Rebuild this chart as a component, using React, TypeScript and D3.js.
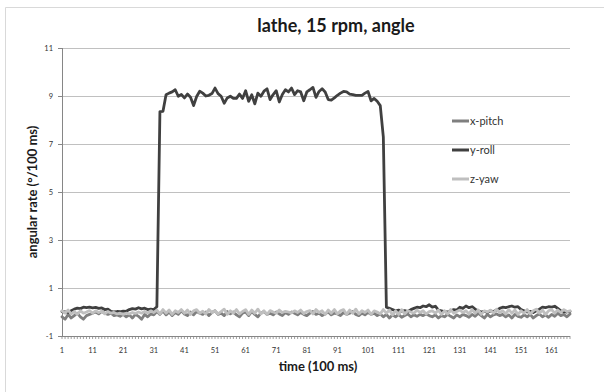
import React from "react";
import * as d3 from "d3";

const title = "lathe, 15 rpm, angle";
const yTitle = "angular rate (°/100 ms)";
const xTitle = "time (100 ms)";
const seriesNames = ["x-pitch", "y-roll", "z-yaw"];
const seriesColors = ["#7f7f7f", "#404040", "#bfbfbf"];
const yTicks = [-1, 1, 3, 5, 7, 9, 11];

const xPitch = [
  -0.2, -0.3, -0.1, -0.25, -0.15, -0.05, -0.2, -0.3, -0.15, -0.1,
  -0.05, 0.0, -0.08, 0.02, -0.05, -0.1, -0.05, -0.15, -0.12, -0.18,
  -0.1, -0.2, -0.12, -0.25, -0.1, -0.18, -0.3, -0.1, -0.2, -0.08,
  -0.12, 0.02, -0.1, 0.05, -0.12, 0.0, -0.15, -0.02, -0.1, 0.05,
  -0.08, -0.15, 0.0, -0.12, 0.02, -0.05, -0.1, 0.0, -0.15, -0.02,
  0.05, -0.1, -0.05, -0.15, 0.02, -0.08, 0.0, -0.12, -0.2, -0.05,
  0.0, -0.15, 0.02, -0.1, -0.2, -0.05, 0.02, -0.1, -0.05, -0.12,
  0.0, -0.08, -0.15, -0.02, -0.1, 0.0, -0.05, -0.12, -0.02, -0.1,
  -0.15, -0.05, 0.02, -0.1, -0.05, -0.15, -0.08, 0.0, -0.12, -0.05,
  -0.08, -0.15, -0.02, -0.1, -0.05, 0.02, -0.1, -0.15, -0.05, -0.12,
  -0.02, -0.1, -0.05, -0.15, -0.08, -0.2, -0.1, -0.25, -0.12, -0.2,
  -0.1, -0.22, -0.15, -0.08, -0.2, -0.12, -0.18, -0.1, -0.15, -0.08,
  -0.15, -0.2, -0.12, -0.25, -0.15, -0.2, -0.1, -0.18, -0.25, -0.12,
  -0.2, -0.1, -0.15, -0.22, -0.1, -0.18, -0.05, -0.15, -0.25, -0.1,
  -0.2, -0.12, -0.08, -0.15, -0.1, -0.2, -0.12, -0.25, -0.1, -0.18,
  -0.22, -0.12, -0.2, -0.1, -0.25, -0.15, -0.08, -0.2, -0.12, -0.22,
  -0.1, -0.18, -0.05, -0.15, -0.1, -0.2, -0.08,
];

const yRoll = [
  0.02, 0.0, -0.02, 0.05, 0.12, 0.16, 0.14, 0.2, 0.18, 0.2,
  0.17, 0.19, 0.15, 0.17, 0.1, 0.12, 0.03, 0.0, 0.02, 0.01,
  0.04, 0.03, 0.1, 0.14, 0.12, 0.18, 0.13, 0.16, 0.1, 0.12,
  0.1, 0.22, 8.35, 8.36, 9.05, 9.12, 9.17, 9.26, 8.99, 9.06,
  8.92, 9.08, 8.95, 8.6, 8.98, 9.2, 9.12, 9.0, 9.03, 9.1,
  9.33, 9.1, 8.99, 8.7, 8.92, 8.99, 8.9, 8.9, 9.08, 8.9,
  9.22, 8.78, 9.05, 8.67, 9.12, 8.99, 9.2, 9.3, 8.85, 9.06,
  9.22, 8.75, 9.06, 9.26, 9.17, 9.33, 9.06, 9.22, 9.17, 8.8,
  9.17, 9.26, 9.36, 8.94, 9.19, 9.3, 9.17, 8.85, 8.83, 8.92,
  9.03, 9.12, 9.19, 9.17, 9.08, 9.06, 9.03, 9.03, 9.03, 9.12,
  9.19, 8.8, 8.9, 8.78, 8.6, 7.3, 0.2, 0.15, 0.1, 0.05,
  0.08, 0.03, 0.06, 0.02, 0.1, 0.15, 0.2, 0.18, 0.25, 0.22,
  0.3, 0.2, 0.24, 0.08, 0.05, 0.02, 0.0, 0.05, 0.1, 0.08,
  0.2, 0.15, 0.25, 0.18, 0.22, 0.12, 0.05, 0.0, 0.03, -0.02,
  0.05, 0.02, 0.08, 0.15, 0.2, 0.18, 0.22, 0.25, 0.2, 0.22,
  0.1, 0.05, 0.0, 0.03, -0.02, 0.05, 0.12, 0.2, 0.18, 0.22,
  0.2, 0.24, 0.15, 0.05, 0.02, 0.0, 0.03,
];

const zYaw = [
  0.05, -0.05, 0.08, -0.08, 0.02, -0.1, 0.05, -0.05, 0.0, 0.06,
  -0.05, 0.05, -0.02, 0.03, -0.08, 0.02, -0.05, -0.02, -0.08, -0.05,
  -0.1, -0.05, -0.08, -0.02, -0.06, 0.0, -0.05, 0.02, -0.04, 0.05,
  -0.02, 0.08, -0.08, 0.1, -0.05, 0.08, -0.1, 0.05, -0.02, 0.1,
  -0.05, 0.08, -0.1, 0.05, 0.1, -0.05, 0.03, -0.08, 0.1, -0.02,
  0.05, -0.08, 0.02, 0.12, -0.1, 0.05, -0.05, 0.1, -0.08, 0.02,
  0.1, -0.1, 0.08, -0.05, 0.12, -0.08, 0.05, -0.1, 0.06, 0.0,
  -0.05, 0.08, -0.02, 0.03, 0.0, -0.04, 0.05, -0.02, 0.08, -0.06,
  0.02, 0.06, -0.08, 0.1, -0.02, 0.05, -0.1, 0.08, -0.05, 0.1,
  -0.08, 0.05, 0.1, -0.1, 0.08, -0.05, 0.12, -0.08, 0.05, -0.02,
  0.08, -0.1, 0.05, 0.0, -0.08, 0.1, -0.05, 0.08, -0.12, 0.05,
  -0.1, 0.1, -0.08, 0.05, 0.0, -0.05, 0.08, -0.02, 0.05, -0.08,
  0.02, 0.05, -0.05, 0.08, -0.1, 0.05, -0.08, 0.1, -0.05, 0.02,
  0.08, -0.02, 0.05, -0.08, 0.1, -0.05, 0.08, -0.1, 0.05, 0.0,
  0.08, -0.05, 0.12, -0.02, 0.05, -0.08, 0.1, -0.05, 0.08, -0.1,
  0.05, -0.05, 0.1, -0.08, 0.05, 0.12, -0.05, 0.08, -0.1, 0.05,
  0.1, -0.05, 0.08, -0.02, 0.1, 0.02, 0.05,
];

const categories = xPitch.map((_, i) => i + 1);
const xTickLabels = categories.filter((c) => (c - 1) % 10 === 0);

export default function App() {
  const W = 604, H = 392;
  const left = 62, right = 570, top = 48, bottom = 336;
  const x = d3.scalePoint<number>().domain(categories).range([left, right]);
  const y = d3.scaleLinear().domain([-1, 11]).range([bottom, top]);
  const line = d3
    .line<number>()
    .x((_, i) => x(categories[i]) as number)
    .y((d) => y(d));
  const data = [xPitch, yRoll, zYaw];
  const font = "Lato, 'Open Sans', sans-serif";
  const legendY = [121, 150, 179];

  return (
    <svg
      width={W}
      height={H}
      style={{ position: "absolute", left: 0, top: 0, background: "#fff" }}
      fontFamily={font}
    >
      <rect x={0} y={0} width={W} height={H} fill="#fff" />
      <line x1={5.5} y1={7.5} x2={W} y2={7.5} stroke="#d9d9d9" />
      <line x1={5.5} y1={7.5} x2={5.5} y2={H} stroke="#d9d9d9" />

      <text x={336} y={32} textAnchor="middle" fontSize={18} fontWeight="bold" fill="#1a1a1a">
        {title}
      </text>

      {yTicks.map((t) => (
        <g key={t}>
          {t !== -1 && (
            <line x1={left} x2={right} y1={Math.round(y(t)) + 0.5} y2={Math.round(y(t)) + 0.5} stroke="#c0c0c0" />
          )}
          <line x1={left - 4} x2={left} y1={Math.round(y(t)) + 0.5} y2={Math.round(y(t)) + 0.5} stroke="#868686" />
          <text x={53} y={y(t) + 2.5} textAnchor="end" fontSize={7.5} fill="#333">
            {t}
          </text>
        </g>
      ))}

      {categories.map((c) => (
        <line key={c} x1={(x(c) as number)} x2={(x(c) as number)} y1={bottom} y2={bottom + 3} stroke="#868686" strokeWidth={0.8} />
      ))}
      <line x1={left + 0.5} x2={left + 0.5} y1={top} y2={bottom} stroke="#868686" />
      <line x1={left} x2={right} y1={bottom + 0.5} y2={bottom + 0.5} stroke="#868686" />

      {xTickLabels.map((c) => (
        <text key={c} x={x(c) as number} y={353} textAnchor="middle" fontSize={7.5} fill="#333">
          {c}
        </text>
      ))}

      {data.map((d, k) => (
        <path key={k} d={line(d) || ""} fill="none" stroke={seriesColors[k]} strokeWidth={2.8} strokeLinejoin="round" strokeLinecap="round" />
      ))}

      {seriesNames.map((n, k) => (
        <g key={n}>
          <line x1={452} x2={469} y1={legendY[k]} y2={legendY[k]} stroke={seriesColors[k]} strokeWidth={3} />
          <text x={470} y={legendY[k] + 4} fontSize={11} fill="#333">
            {n}
          </text>
        </g>
      ))}

      <text
        transform={`translate(37,${(top + bottom) / 2}) rotate(-90)`}
        textAnchor="middle"
        fontSize={13}
        fontWeight="bold"
        fill="#1a1a1a"
      >
        {yTitle}
      </text>
      <text x={318} y={371} textAnchor="middle" fontSize={13} fontWeight="bold" fill="#1a1a1a">
        {xTitle}
      </text>
    </svg>
  );
}
